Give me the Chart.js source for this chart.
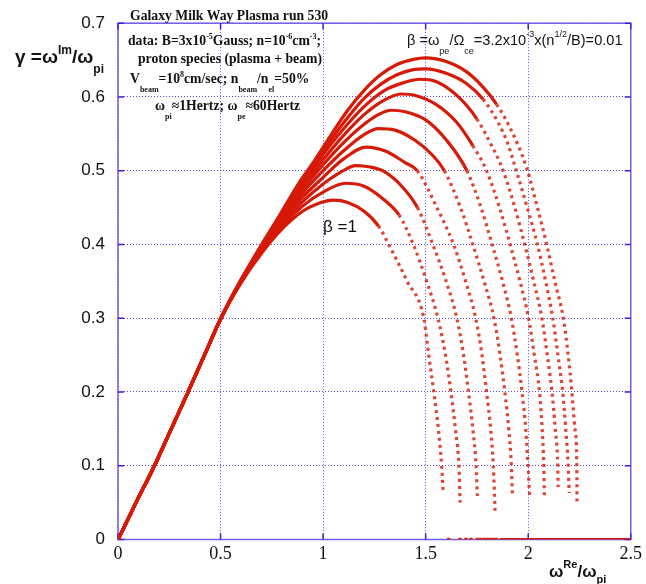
<!DOCTYPE html>
<html>
<head>
<meta charset="utf-8">
<script src="https://cdn.jsdelivr.net/npm/chart.js@4"></script>
<style>
html, body { margin: 0; padding: 0; background: #fff; }
canvas { display: block; }
</style>
</head>
<body>
<canvas id="chart" width="646" height="584"></canvas>
<script>
// shared linear rise (all curves overlap here)
const rise = [[0,0],[0.088,0.05],[0.176,0.099],[0.258,0.149],[0.34,0.199],[0.42,0.249],[0.5,0.299]];

// growth rate curves (x = wRe/wpi, y = wIm/wpi), top curve first
const curve1 = [[0.6,0.352],[0.7,0.400],[0.774,0.433],[0.879,0.482],[0.959,0.514],[1.04,0.549],[1.12,0.582],[1.2,0.609],[1.28,0.630],[1.36,0.644],[1.44,0.651],[1.5,0.653],[1.6,0.648],[1.7,0.634],[1.781,0.613],[1.846,0.590],[1.91,0.559],[1.991,0.505],[2.045,0.45],[2.09,0.40],[2.13,0.35],[2.171,0.30],[2.195,0.25],[2.213,0.20],[2.228,0.15],[2.237,0.10],[2.238,0.05]];
const curve2 = [[0.6,0.352],[0.7,0.399],[0.8,0.444],[0.9,0.487],[1.0,0.527],[1.1,0.565],[1.2,0.598],[1.28,0.617],[1.36,0.630],[1.44,0.637],[1.5,0.638],[1.6,0.632],[1.7,0.618],[1.78,0.597],[1.85,0.567],[1.9,0.537],[1.942,0.50],[1.995,0.45],[2.045,0.40],[2.085,0.35],[2.12,0.30],[2.145,0.25],[2.168,0.20],[2.183,0.15],[2.195,0.10],[2.200,0.063]];
const curve3 = [[0.6,0.352],[0.7,0.398],[0.8,0.442],[0.9,0.483],[1.0,0.522],[1.1,0.557],[1.2,0.587],[1.3,0.609],[1.4,0.620],[1.47,0.624],[1.55,0.621],[1.66,0.600],[1.75,0.570],[1.82,0.535],[1.878,0.50],[1.935,0.45],[1.983,0.40],[2.027,0.35],[2.067,0.30],[2.093,0.25],[2.116,0.20],[2.132,0.15],[2.144,0.10],[2.146,0.071]];
const curve4 = [[0.6,0.352],[0.7,0.397],[0.8,0.440],[0.9,0.479],[1.0,0.515],[1.1,0.548],[1.2,0.576],[1.3,0.596],[1.38,0.604],[1.45,0.602],[1.55,0.590],[1.65,0.566],[1.73,0.534],[1.797,0.50],[1.86,0.45],[1.912,0.40],[1.96,0.35],[2.002,0.30],[2.03,0.25],[2.055,0.20],[2.068,0.15],[2.076,0.10],[2.079,0.059]];
const curve5 = [[0.6,0.351],[0.7,0.396],[0.8,0.438],[0.9,0.475],[1.0,0.508],[1.1,0.538],[1.2,0.563],[1.27,0.576],[1.33,0.582],[1.4,0.580],[1.5,0.569],[1.6,0.542],[1.701,0.50],[1.77,0.45],[1.824,0.40],[1.875,0.35],[1.918,0.30],[1.947,0.25],[1.970,0.20],[1.988,0.15],[1.999,0.10],[2.007,0.060]];
const curve6 = [[0.6,0.351],[0.7,0.395],[0.8,0.435],[0.9,0.470],[1.0,0.500],[1.1,0.527],[1.2,0.549],[1.27,0.557],[1.35,0.555],[1.45,0.541],[1.53,0.522],[1.591,0.50],[1.67,0.45],[1.73,0.40],[1.785,0.35],[1.833,0.30],[1.863,0.25],[1.886,0.20],[1.905,0.15],[1.918,0.10],[1.923,0.060]];
const curve7 = [[0.6,0.350],[0.7,0.394],[0.8,0.432],[0.9,0.464],[1.0,0.491],[1.1,0.516],[1.21,0.532],[1.3,0.527],[1.4,0.511],[1.459,0.50],[1.555,0.45],[1.636,0.40],[1.695,0.35],[1.744,0.30],[1.775,0.25],[1.797,0.20],[1.817,0.15],[1.830,0.10],[1.839,0.035]];
const curve8 = [[0.6,0.350],[0.7,0.392],[0.8,0.428],[0.9,0.458],[1.0,0.482],[1.08,0.497],[1.16,0.507],[1.23,0.505],[1.29,0.50],[1.38,0.48],[1.46,0.45],[1.535,0.40],[1.6,0.35],[1.652,0.30],[1.685,0.25],[1.709,0.20],[1.73,0.15],[1.746,0.10],[1.752,0.059]];
const curve9 = [[0.6,0.349],[0.7,0.390],[0.8,0.425],[0.9,0.452],[1.0,0.471],[1.11,0.483],[1.2,0.479],[1.3,0.46],[1.37,0.44],[1.44,0.40],[1.505,0.35],[1.560,0.30],[1.597,0.25],[1.623,0.20],[1.645,0.15],[1.662,0.10],[1.668,0.05]];
const curve10 = [[0.6,0.348],[0.7,0.388],[0.8,0.421],[0.9,0.445],[0.97,0.455],[1.05,0.460],[1.12,0.457],[1.2,0.445],[1.27,0.425],[1.32,0.40],[1.41,0.35],[1.491,0.30],[1.515,0.25],[1.540,0.20],[1.562,0.15],[1.578,0.10],[1.586,0.062]];

// damped modes sitting on the axis
const zeroDotsX = [1.612,1.668,1.697,1.721,1.752,1.768,1.785,1.80,1.815,1.83,1.845];
const zeroBandX = [1.86, 2.5];

const xTicks = [0, 0.5, 1, 1.5, 2, 2.5];

const RED = 'rgb(215,25,8)';
const TAIL = 'rgba(215,35,15,0.85)';
const GRID = 'rgba(70,50,235,0.9)';
const FRAME = '#6d5fe8';
const SERIF = '"Liberation Serif", "Times New Roman", serif';
const SANS = '"Liberation Sans", Arial, sans-serif';

// steep falling pieces are drawn as beads, like the sparse markers in the picture
function steep(ctx) {
    return (ctx.p1.y - ctx.p0.y) > 1.5 * Math.abs(ctx.p1.x - ctx.p0.x);
}

const curves = [curve1, curve2, curve3, curve4, curve5, curve6, curve7, curve8, curve9, curve10];

const datasets = curves.map(function (c) {
    return {
        data: rise.concat(c).map(p => ({ x: p[0], y: p[1] })),
        showLine: true,
        borderColor: RED,
        borderWidth: 3.2,
        pointRadius: 0,
        cubicInterpolationMode: 'monotone',
        segment: {
            borderDash: ctx => steep(ctx) ? [3, 4] : undefined,
            borderColor: ctx => steep(ctx) ? TAIL : undefined
        }
    };
});
datasets.push({
    data: zeroDotsX.map(x => ({ x: x, y: 0 })),
    showLine: false,
    pointStyle: 'rect',
    pointRadius: 1.8,
    pointBorderWidth: 1,
    pointBorderColor: RED,
    pointBackgroundColor: RED
});
datasets.push({
    data: zeroBandX.map(x => ({ x: x, y: 0 })),
    showLine: true,
    borderColor: RED,
    borderWidth: 3,
    pointRadius: 0
});

// text with sub/superscripts, parts: 'text' or ['text','sup'|'sub']
function rich(ctx, x, y, parts, size, family, weight, subOff, supOff) {
    let cx = x;
    parts.forEach(function (p) {
        const t = typeof p === 'string' ? p : p[0];
        const k = typeof p === 'string' ? 'n' : p[1];
        const s = k === 'n' ? size : Math.round(size * 0.62);
        const dy = k === 'sup' ? -size * (supOff || 0.45) : k === 'sub' ? size * (subOff || 0.55) : 0;
        ctx.font = weight + ' ' + s + 'px ' + family;
        ctx.fillText(t, cx, y + dy);
        cx += ctx.measureText(t).width;
    });
}

const framePlugin = {
    id: 'frame',
    beforeDatasetsDraw(chart) {
        const ctx = chart.ctx, a = chart.chartArea;
        const xs = chart.scales.x, ys = chart.scales.y;
        ctx.save();
        ctx.strokeStyle = FRAME;
        ctx.lineWidth = 1.5;
        ctx.strokeRect(a.left, a.top, a.right - a.left, a.bottom - a.top);
        ctx.strokeStyle = '#3a22e0';
        ctx.beginPath();
        xs.ticks.forEach(function (t) {
            const px = xs.getPixelForValue(t.value);
            ctx.moveTo(px, a.bottom); ctx.lineTo(px, a.bottom - 6);
            ctx.moveTo(px, a.top); ctx.lineTo(px, a.top + 6);
        });
        ys.ticks.forEach(function (t) {
            const py = ys.getPixelForValue(t.value);
            ctx.moveTo(a.left, py); ctx.lineTo(a.left + 6, py);
            ctx.moveTo(a.right, py); ctx.lineTo(a.right - 6, py);
        });
        ctx.stroke();
        ctx.restore();
    }
};

const textPlugin = {
    id: 'texts',
    afterDraw(chart) {
        const ctx = chart.ctx;
        ctx.save();
        ctx.fillStyle = '#111';
        ctx.textBaseline = 'alphabetic';
        ctx.textAlign = 'left';
        rich(ctx, 130, 20, ['Galaxy Milk Way Plasma run 530'], 13.7, SERIF, 'bold');
        rich(ctx, 128, 45, ['data: B=3x10', ['-5', 'sup'], 'Gauss; n=10', ['-6', 'sup'], 'cm', ['-3', 'sup'], ';'], 13.7, SERIF, 'bold');
        rich(ctx, 138, 63, ['proton species (plasma + beam)'], 13.7, SERIF, 'bold');
        rich(ctx, 130, 83, ['V', ['beam', 'sub'], '=10', ['8', 'sup'], 'cm/sec; n', ['beam', 'sub'], '/n', ['el', 'sub'], '=50%'], 13.7, SERIF, 'bold', 0.65);
        rich(ctx, 155, 110, ['\u03c9', ['pi', 'sub'], '\u22481Hertz; \u03c9', ['pe', 'sub'], '\u224860Hertz'], 13.7, SERIF, 'bold', 0.65);
        rich(ctx, 407, 45, ['\u03b2 =\u03c9', ['pe', 'sub'], '/\u03a9', ['ce', 'sub'], '=3.2x10', ['-3', 'sup'], 'x(n', ['1/2', 'sup'], '/B)=0.01'], 14.6, SANS, 'normal', 0.65, 0.55);
        rich(ctx, 323, 232, ['\u03b2 =1'], 17, SANS, 'normal');
        rich(ctx, 15, 63, ['\u03b3 =\u03c9', ['Im', 'sup'], '/\u03c9', ['pi', 'sub']], 19, SANS, 'bold', 0.5, 0.5);
        rich(ctx, 549, 577, ['\u03c9', ['Re', 'sup'], '/\u03c9', ['pi', 'sub']], 17, SANS, 'bold', 0.35, 0.55);
        ctx.restore();
    }
};

new Chart(document.getElementById('chart'), {
    type: 'scatter',
    data: { datasets: datasets },
    options: {
        responsive: false,
        animation: false,
        devicePixelRatio: 1,
        layout: { padding: { left: 0, right: 11, top: 22.7, bottom: 0 } },
        plugins: { legend: { display: false }, tooltip: { enabled: false } },
        scales: {
            x: {
                type: 'linear',
                min: 0, max: 2.5,
                afterFit: s => { s.height = 44.5; },
                afterBuildTicks: s => { s.ticks = xTicks.map(v => ({ value: v })); },
                grid: { color: GRID, lineWidth: 1, drawTicks: false },
                border: { display: false, dash: [1, 2] },
                ticks: {
                    padding: 4,
                    color: '#111',
                    font: { family: SERIF, size: 18 },
                    callback: v => String(+v.toFixed(1))
                }
            },
            y: {
                min: 0, max: 0.7,
                afterFit: s => { s.width = 118; },
                grid: { color: GRID, lineWidth: 1, drawTicks: false },
                border: { display: false, dash: [1, 2] },
                ticks: {
                    stepSize: 0.1,
                    padding: 13,
                    color: '#111',
                    font: { family: SANS, size: 17 },
                    callback: v => v === 0 ? '0' : v.toFixed(1)
                }
            }
        }
    },
    plugins: [framePlugin, textPlugin]
});
</script>
</body>
</html>
